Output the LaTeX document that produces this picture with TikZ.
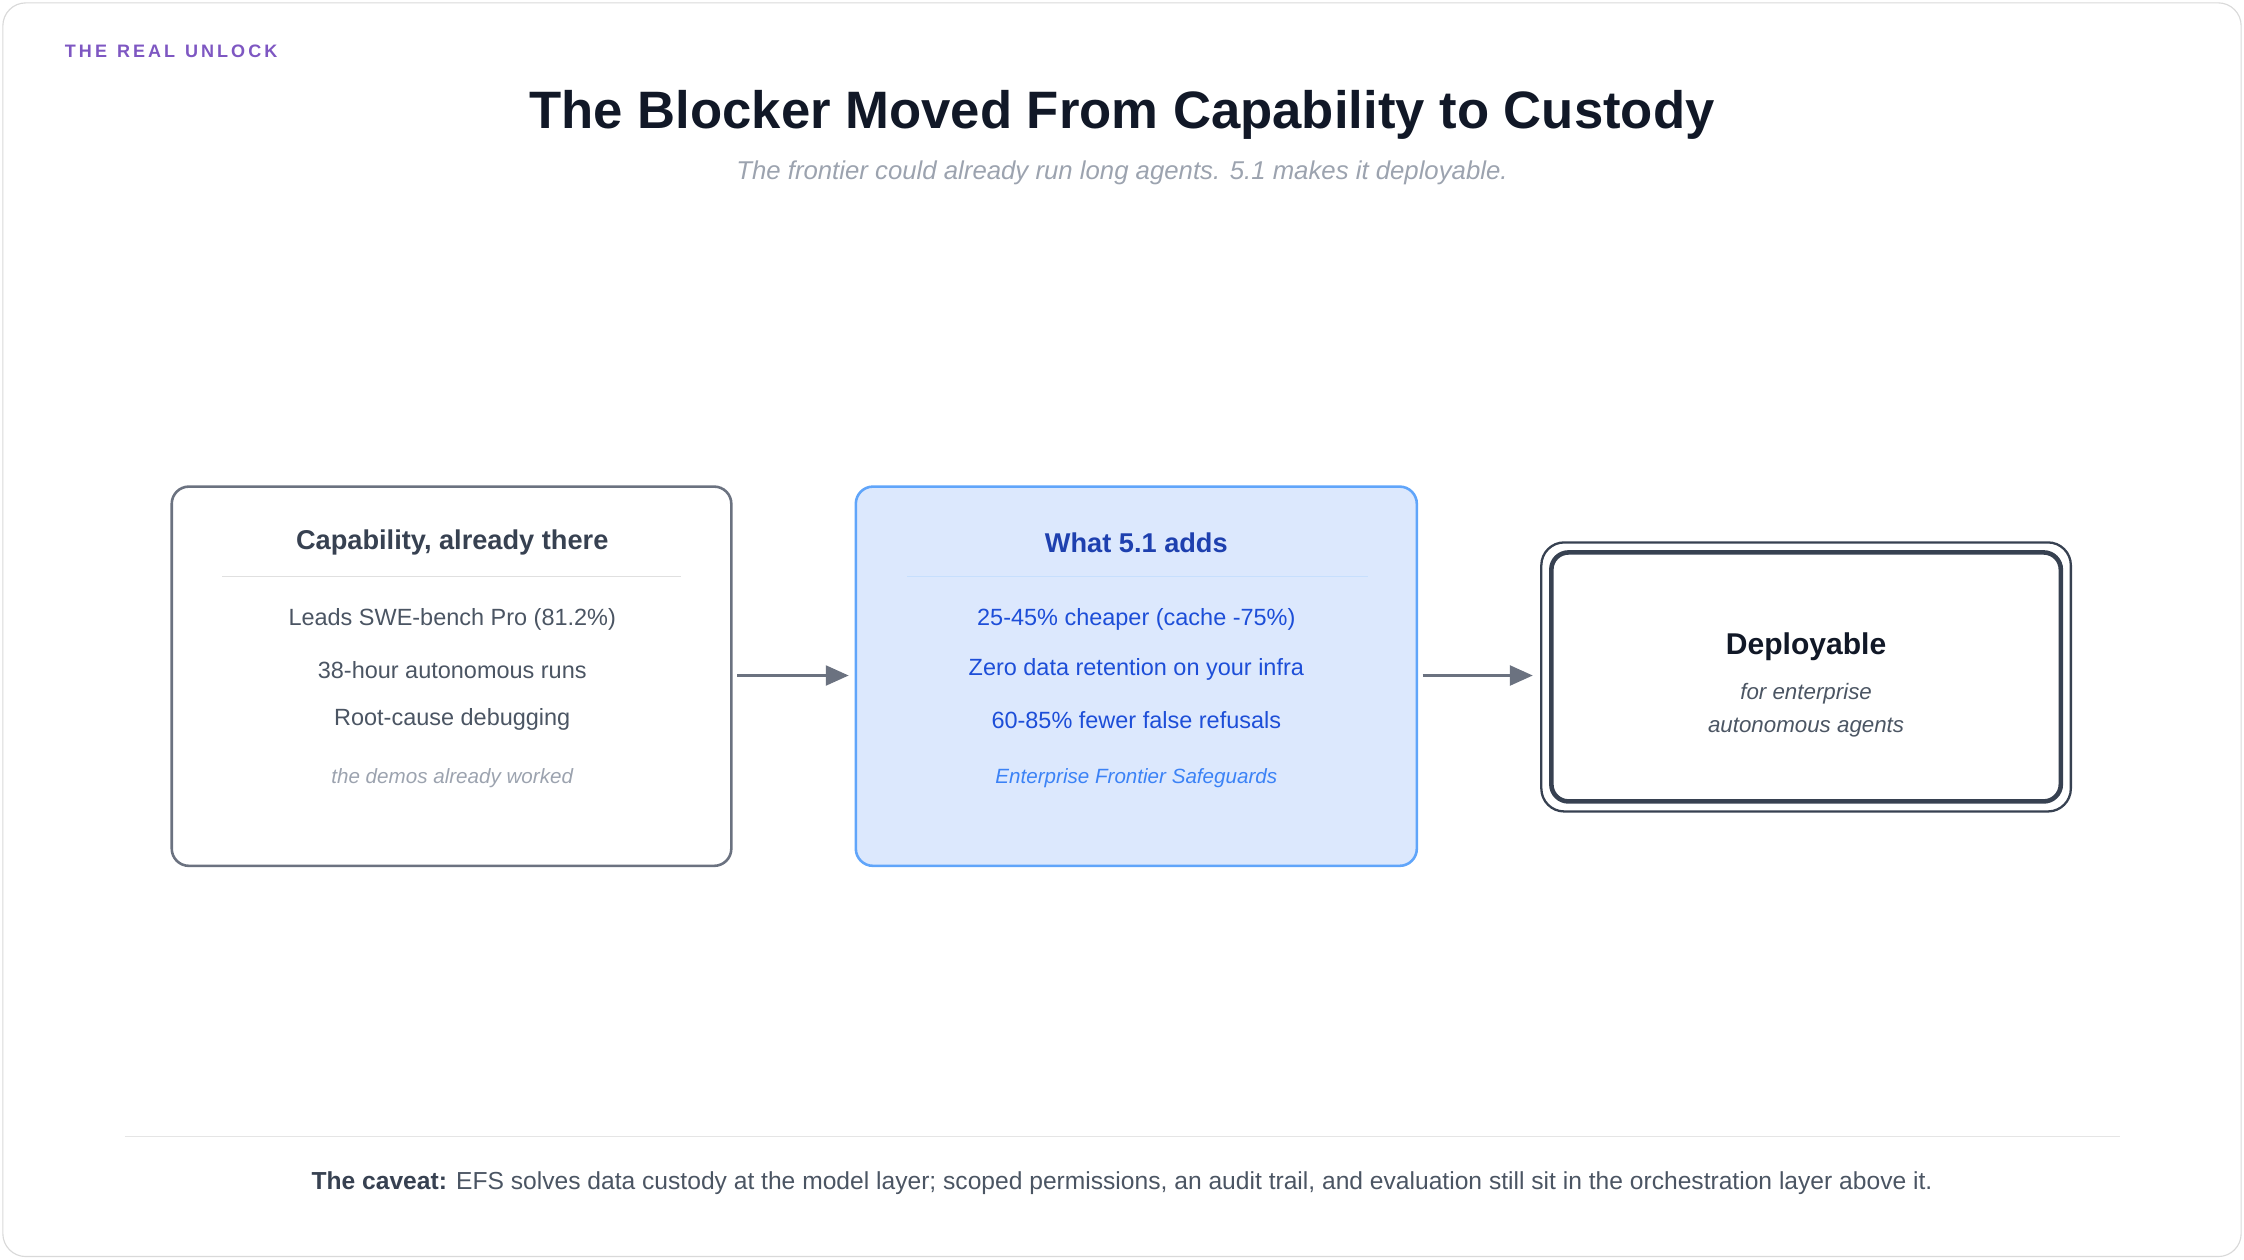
\documentclass[tikz,border=0pt]{standalone}
\usepackage{fontspec}
\setmainfont{Liberation Sans}
\usetikzlibrary{arrows.meta,positioning}
\definecolor{ink}{HTML}{111827}
\definecolor{slate}{HTML}{374151}
\definecolor{muted}{HTML}{4B5563}
\definecolor{faint}{HTML}{9CA3AF}
\definecolor{edge}{HTML}{6B7280}
\definecolor{tint}{HTML}{DCE8FD}
\definecolor{tintedge}{HTML}{60A5FA}
\definecolor{navy}{HTML}{1E40AF}
\definecolor{royal}{HTML}{1D4ED8}
\definecolor{sky}{HTML}{3B82F6}
\definecolor{plum}{HTML}{7E57C2}
\tikzset{
  card/.style={draw=edge, line width=0.9pt, rounded corners=6pt},
  head/.style={font=\fontsize{9.5}{11}\selectfont\bfseries},
  item/.style={font=\fontsize{8.2}{10}\selectfont},
  note/.style={font=\fontsize{7.2}{9}\selectfont\itshape},
  flow/.style={-{Triangle[length=8pt,width=7pt]}, draw=edge, line width=0.8pt}
}
\begin{document}
\begin{tikzpicture}[x=0.5pt,y=-0.5pt]

    %% Frame
    \useasboundingbox (0,0) rectangle (1568,880);
    \draw[black!15, rounded corners=8pt] (2,2) rectangle (1566,878);

    % Heading
    \node[anchor=west, inner sep=0pt, text=plum, font=\fontsize{6.3}{8}\selectfont\bfseries] (kicker) at (45,36) {T\,H\,E\; R\,E\,A\,L\; U\,N\,L\,O\,C\,K};
    \node[text=ink, font=\fontsize{18.4}{22}\selectfont\bfseries] (title) at (784,80) {The Blocker Moved From Capability to Custody};
    \node[text=faint, font=\fontsize{9}{10}\selectfont\itshape] (subtitle) at (784,121) {The frontier could already run long agents. 5.1 makes it deployable.};

    % Capability box
    \draw[card] (120,340) rectangle (511,605);
    \node[coordinate] (capL) at (120,472) {};
    \node[coordinate] (capR) at (515,472) {};
    \node[head, text=slate] (caphead) at (316,379) {Capability, already there};
    \draw[black!12] (155,403) -- (476,403);
    \node[item, text=muted] (cap1) at (316,433) {Leads SWE-bench Pro (81.2\%)};
    \node[item, text=muted] (cap2) at (316,468) {38-hour autonomous runs};
    \node[item, text=muted] (cap3) at (316,503) {Root-cause debugging};
    \node[note, text=faint] (capnote) at (316,544) {the demos already worked};

    % Additions box
    \draw[card, draw=tintedge, fill=tint] (598,340) rectangle (990,605);
    \node[coordinate] (addL) at (593,472) {};
    \node[coordinate] (addR) at (994,472) {};
    \node[head, text=navy] (addhead) at (794,379) {What 5.1 adds};
    \draw[tintedge!35] (634,403) -- (956,403);
    \node[item, text=royal] (add1) at (794,433) {25-45\% cheaper (cache -75\%)};
    \node[item, text=royal] (add2) at (794,468) {Zero data retention on your infra};
    \node[item, text=royal] (add3) at (794,503) {60-85\% fewer false refusals};
    \node[note, text=sky] (addnote) at (794,544) {Enterprise Frontier Safeguards};

    % Deployable box
    \draw[slate, line width=0.8pt, rounded corners=8pt] (1077,379) rectangle (1447,567);
    \draw[slate, line width=1.6pt, rounded corners=6pt] (1084,386) rectangle (1440,560);
    \node[coordinate] (depL) at (1071,472) {};
    \node[text=ink, font=\fontsize{10.5}{12}\selectfont\bfseries] (dephead) at (1262,452) {Deployable};
    \node[text=muted, align=center, font=\fontsize{7.8}{11.5}\selectfont\itshape] (depnote) at (1262,496) {for enterprise\\autonomous agents};

    % Arrows
    \draw[flow] (capR) -- (addL);
    \draw[flow] (addR) -- (depL);

    % Caveat
    \draw[black!10] (87,794) -- (1481,794);
    \node[text=muted, font=\fontsize{8.6}{10}\selectfont] (caveat) at (784,827) {\textcolor{slate}{\bfseries The caveat:} EFS solves data custody at the model layer; scoped permissions, an audit trail, and evaluation still sit in the orchestration layer above it.};

\end{tikzpicture}
\end{document}
